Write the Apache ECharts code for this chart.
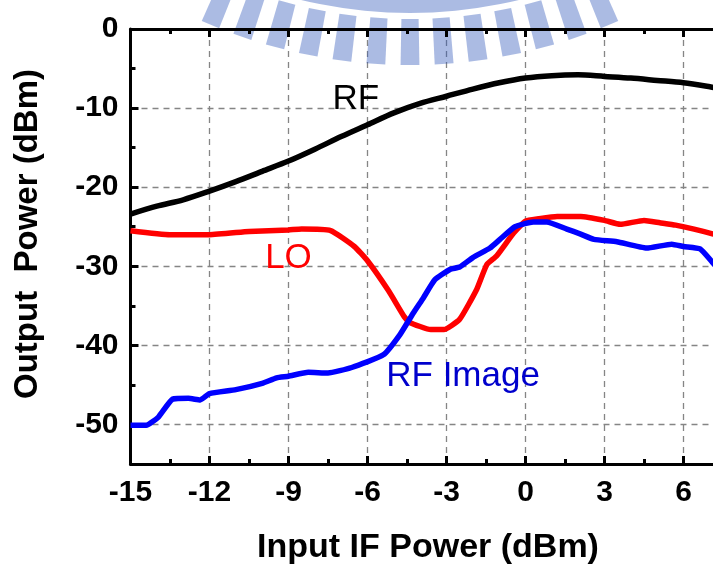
<!DOCTYPE html>
<html>
<head>
<meta charset="utf-8">
<script src="https://cdn.jsdelivr.net/npm/echarts@6/dist/echarts.min.js"></script>
<style>
  html, body { margin: 0; padding: 0; background: #ffffff; overflow: hidden; }
  /* the plot runs a little past the right edge of the window */
  #chart { width: 723px; height: 567px; }
</style>
</head>
<body>
<div id="chart"></div>
<script>
// Output power versus input IF power (dBm)
const rfX = [-15, -14, -13, -12, -11, -10, -9, -8, -7, -6, -5, -4, -3, -2, -1, 0, 1, 2, 3, 4, 5, 6, 7, 7.5];
const rfY = [-23.4, -22.4, -21.6, -20.5, -19.3, -18.0, -16.7, -15.2, -13.6, -12.1, -10.6, -9.4, -8.5, -7.6, -6.8, -6.2, -5.9, -5.8, -6.0, -6.2, -6.5, -6.8, -7.3, -7.6];

const loX = [-15, -13.5, -12, -10.5, -9, -8.5, -7.4, -6.5, -6, -5.2, -4.6, -4.4, -3.6, -3.1, -2.5, -1.85, -1.47, -1.1, -0.45, 0, 0.5, 1.2, 2.1, 3.0, 3.6, 4.5, 5.1, 5.7, 6.4, 7.1, 7.5];
const loY = [-25.5, -26.0, -26.0, -25.6, -25.4, -25.3, -25.5, -27.5, -29.3, -33.1, -36.4, -37.1, -38.0, -38.0, -36.7, -32.9, -29.8, -28.7, -25.8, -24.3, -24.0, -23.7, -23.7, -24.2, -24.7, -24.2, -24.5, -24.8, -25.3, -25.9, -26.3];

const imgX = [-15, -14.4, -13.95, -13.4, -12.8, -12.35, -12, -11, -10, -9.45, -9, -8.25, -7.5, -6.6, -5.4, -4.76, -4.26, -3.88, -3.44, -2.87, -2.5, -2.0, -1.35, -0.97, -0.4, 0.3, 0.8, 1.57, 2.07, 2.6, 3.47, 4.6, 5.55, 6.0, 6.63, 7.1, 7.5];
const imgY = [-50.1, -50.1, -49.1, -46.8, -46.7, -46.9, -46.1, -45.6, -44.8, -44.1, -43.9, -43.4, -43.5, -42.8, -41.2, -38.6, -35.9, -34.0, -31.7, -30.4, -30.1, -28.9, -27.7, -26.6, -25.0, -24.4, -24.4, -25.3, -25.9, -26.6, -26.9, -27.7, -27.2, -27.5, -27.8, -29.5, -31.0];

// Axis ranges and tick labels
const xMin = -15, xMax = 7.5, xStep = 3;
const yMin = -55, yMax = 0;
const xTicks = ['-15', '-12', '-9', '-6', '-3', '0', '3', '6'];
const yTicks = ['-50', '-40', '-30', '-20', '-10', '0'];

// Curve annotations: text, anchor (data coords), colour
const curveNames = ['RF', 'LO', 'RF Image'];
const nameAnchors = [[-6.44, -8.95], [-9.0, -29.0], [-2.37, -43.9]];
const nameColors = ['#000000', '#ff0000', '#0000cc'];

const FONT = '"Liberation Sans", Arial, Helvetica, sans-serif';

const pairs = (xs, ys) => xs.map((x, i) => [x, ys[i]]);
const pickLabel = (list, start, step) => v => {
  const i = Math.round((v - start) / step);
  return Math.abs(v - (start + i * step)) < 1e-6 && list[i] !== undefined ? list[i] : '';
};

const chart = echarts.init(document.getElementById('chart'), null, { renderer: 'canvas' });

const axisLineStyle = { color: '#000', width: 3 };
const tickStyle = { color: '#000', width: 3 };
const gridLine = { show: true, lineStyle: { color: '#858585', width: 1.3, type: [6, 5] } };
const baseX = {
  type: 'value', min: xMin, max: xMax, interval: xStep,
  axisLine: { show: true, onZero: false, lineStyle: axisLineStyle },
  axisTick: { show: true, inside: true, length: 8, lineStyle: tickStyle },
  minorTick: { show: true, splitNumber: 2, length: 5, lineStyle: tickStyle }
};

chart.setOption({
  animation: false,
  backgroundColor: '#ffffff',
  grid: { left: 130.5, right: 0, top: 29, bottom: 103, containLabel: false },
  xAxis: [
    Object.assign({}, baseX, {
      position: 'bottom',
      axisLabel: {
        show: true, margin: 14, showMaxLabel: false,
        color: '#000', fontFamily: FONT, fontWeight: 'bold', fontSize: 30,
        formatter: pickLabel(xTicks, -15, 3)
      },
      splitLine: gridLine
    }),
    Object.assign({}, baseX, {
      position: 'top',
      axisLabel: { show: false },
      splitLine: { show: false }
    })
  ],
  yAxis: {
    type: 'value', min: yMin, max: yMax, splitNumber: 6,
    axisLine: { show: true, onZero: false, lineStyle: axisLineStyle },
    axisTick: { show: true, inside: true, length: 8, lineStyle: tickStyle },
    minorTick: { show: true, splitNumber: 2, length: 5, lineStyle: tickStyle },
    axisLabel: {
      show: true, margin: 12, showMinLabel: false,
      color: '#000', fontFamily: FONT, fontWeight: 'bold', fontSize: 30,
      formatter: pickLabel(yTicks, -50, 10)
    },
    splitLine: gridLine
  },
  series: [
    { name: 'RF', type: 'line', data: pairs(rfX, rfY), smooth: 0.3, symbol: 'none', clip: true,
      lineStyle: { color: '#000000', width: 5.5 }, z: 3 },
    { name: 'LO', type: 'line', data: pairs(loX, loY), smooth: 0.15, symbol: 'none', clip: true,
      lineStyle: { color: '#ff0000', width: 5.5 }, z: 4 },
    { name: 'RF Image', type: 'line', data: pairs(imgX, imgY), smooth: 0.15, symbol: 'none', clip: true,
      lineStyle: { color: '#0000ff', width: 5.5 }, z: 5 }
  ]
});

// Curve labels, placed from data coordinates
const labelEls = curveNames.map((t, i) => {
  const p = chart.convertToPixel({ gridIndex: 0 }, nameAnchors[i]);
  return {
    type: 'text', x: p[0], y: p[1], z: 20,
    style: { text: t, fill: nameColors[i], font: '35px ' + FONT, align: 'center', verticalAlign: 'middle' }
  };
});

// Faint emblem across the top edge: an inner band and a fringe of radial bars
const emb = { cx: 410, cy: -450 };
const embColor = 'rgba(45, 85, 185, 0.40)';
const embBars = [];
for (let k = -6; k <= 6; k++) {
  const a = k * 3.8 * Math.PI / 180, h = 1.05 * Math.PI / 180;
  const pt = (r, t) => [emb.cx + r * Math.sin(t), emb.cy + r * Math.cos(t)];
  embBars.push({
    type: 'polygon', silent: true,
    shape: { points: [pt(469, a - h), pt(515, a - h), pt(515, a + h), pt(469, a + h)] },
    style: { fill: embColor }
  });
}

chart.setOption({
  graphic: [
    ...labelEls,
    { type: 'text', x: 428, y: 548, z: 20,
      style: { text: 'Input IF Power (dBm)', fill: '#000', font: 'bold 34px ' + FONT, align: 'center', verticalAlign: 'middle' } },
    { type: 'text', x: 28, y: 234, rotation: Math.PI / 2, z: 20,
      style: { text: 'Output  Power (dBm)', fill: '#000', font: 'bold 33px ' + FONT, align: 'center', verticalAlign: 'middle' } },
    { type: 'group', z: 100, silent: true, children: [
      { type: 'ring', shape: { cx: emb.cx, cy: emb.cy, r: 463, r0: 420 }, style: { fill: embColor } },
      ...embBars
    ] }
  ]
});
</script>
</body>
</html>
